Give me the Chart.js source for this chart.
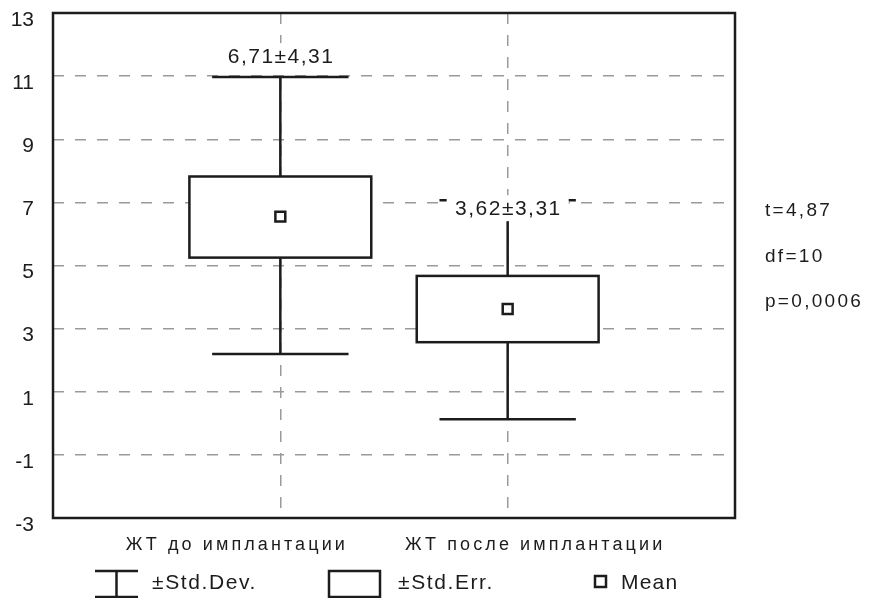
<!DOCTYPE html>
<html>
<head>
<meta charset="utf-8">
<script src="https://cdn.jsdelivr.net/npm/chart.js@4/dist/chart.umd.min.js"></script>
<style>
  html, body { margin: 0; padding: 0; background: #fff; }
  #wrap { width: 869px; height: 598px; }
</style>
</head>
<body>
<div id="wrap"><canvas id="chart"></canvas></div>
<script>
// data
const categories = ['ЖТ до имплантации', 'ЖТ после имплантации'];
const means = [6.55, 3.62];
const seLow = [5.25, 2.57];
const seHigh = [7.82, 4.67];
const sdLow = [2.2, 0.13];
const sdHigh = [10.97, 7.07];
const valueLabels = ['6,71±4,31', '3,62±3,31'];
const yTicks = [-3, -1, 1, 3, 5, 7, 9, 11, 13];
const statLines = ['t=4,87', 'df=10', 'p=0,0006'];
const legendItems = ['±Std.Dev.', '±Std.Err.', 'Mean'];

const FONT = "'Liberation Sans', Arial, sans-serif";
const INK = '#1c1c1c';

function spacedText(ctx, txt, x, y, spacing, align) {
  ctx.letterSpacing = spacing + 'px';
  let w = ctx.measureText(txt).width;
  let sx = x;
  if (align === 'center') sx = x - w / 2 + spacing / 2;
  ctx.textAlign = 'left';
  ctx.fillText(txt, sx, y);
  ctx.letterSpacing = '0px';
}

const boxPlugin = {
  id: 'boxes',
  beforeDatasetsDraw(chart) {
    const { ctx, scales: { x, y } } = chart;
    ctx.save();
    ctx.strokeStyle = INK;
    ctx.lineWidth = 2.5;
    ctx.fillStyle = '#fff';
    categories.forEach((c, i) => {
      const cx = x.getPixelForValue(i + 1);
      const bw = x.getPixelForValue(i + 1.4) - cx;
      const cw = x.getPixelForValue(i + 1.3) - cx;
      // whiskers
      ctx.beginPath();
      ctx.moveTo(cx, y.getPixelForValue(sdHigh[i]));
      ctx.lineTo(cx, y.getPixelForValue(seHigh[i]));
      ctx.moveTo(cx, y.getPixelForValue(seLow[i]));
      ctx.lineTo(cx, y.getPixelForValue(sdLow[i]));
      ctx.moveTo(cx - cw, y.getPixelForValue(sdHigh[i]));
      ctx.lineTo(cx + cw, y.getPixelForValue(sdHigh[i]));
      ctx.moveTo(cx - cw, y.getPixelForValue(sdLow[i]));
      ctx.lineTo(cx + cw, y.getPixelForValue(sdLow[i]));
      ctx.stroke();
      // SE box
      const top = y.getPixelForValue(seHigh[i]);
      const bot = y.getPixelForValue(seLow[i]);
      ctx.fillRect(cx - bw, top, bw * 2, bot - top);
      ctx.strokeRect(cx - bw, top, bw * 2, bot - top);
    });
    ctx.restore();
  },
  afterDatasetsDraw(chart) {
    const { ctx, scales: { x, y } } = chart;
    const shift = [-21, 8];
    ctx.save();
    ctx.font = '21px ' + FONT;
    ctx.textBaseline = 'middle';
    categories.forEach((c, i) => {
      const cx = x.getPixelForValue(i + 1);
      const ly = y.getPixelForValue(sdHigh[i]) + shift[i];
      ctx.fillStyle = '#fff';
      ctx.fillRect(cx - 61, ly - 13, 122, 26);
      ctx.fillStyle = INK;
      spacedText(ctx, valueLabels[i], cx, ly + 1, 1.5, 'center');
    });
    ctx.restore();
  },
  afterDraw(chart) {
    const { ctx, chartArea: a, scales: { x } } = chart;
    ctx.save();
    // frame
    ctx.strokeStyle = INK;
    ctx.lineWidth = 2.5;
    ctx.strokeRect(a.left, a.top, a.right - a.left, a.bottom - a.top);
    ctx.fillStyle = INK;
    ctx.textBaseline = 'middle';
    // category labels
    ctx.font = '18px ' + FONT;
    const catShift = [-45, 26];
    categories.forEach((c, i) => {
      spacedText(ctx, c, x.getPixelForValue(i + 1) + catShift[i], 545, 3.1, 'center');
    });
    // stats on the right
    ctx.font = '19px ' + FONT;
    statLines.forEach((s, i) => {
      spacedText(ctx, s, 765, 211 + i * 45.5, 2.3, 'left');
    });
    // legend
    ctx.lineWidth = 2.5;
    ctx.beginPath();
    ctx.moveTo(95, 571); ctx.lineTo(138, 571);
    ctx.moveTo(116.5, 571); ctx.lineTo(116.5, 597);
    ctx.moveTo(95, 597); ctx.lineTo(138, 597);
    ctx.stroke();
    ctx.strokeRect(329, 571, 51, 26);
    ctx.strokeRect(595, 576, 11, 11);
    ctx.font = '21px ' + FONT;
    spacedText(ctx, legendItems[0], 152, 583, 1.6, 'left');
    spacedText(ctx, legendItems[1], 398, 583, 1.6, 'left');
    spacedText(ctx, legendItems[2], 621, 583, 1.2, 'left');
    ctx.restore();
  }
};

new Chart(document.getElementById('chart'), {
  type: 'scatter',
  data: {
    datasets: [{
      label: 'Mean',
      data: categories.map((c, i) => ({ x: i + 1, y: means[i] })),
      pointStyle: 'rect',
      radius: 7,
      borderWidth: 2.5,
      borderColor: INK,
      backgroundColor: '#fff'
    }]
  },
  options: {
    responsive: true,
    maintainAspectRatio: false,
    animation: false,
    events: [],
    layout: { padding: { left: 0, right: 134, top: 13, bottom: 0 } },
    plugins: { legend: { display: false }, tooltip: { enabled: false } },
    scales: {
      x: {
        type: 'linear',
        min: 0,
        max: 3,
        afterBuildTicks: s => { s.ticks = [0, 1, 2, 3].map(v => ({ value: v })); },
        ticks: { display: false },
        grid: {
          drawTicks: false,
          lineWidth: 1.5,
          color: c => (c.tick && (c.tick.value === 1 || c.tick.value === 2)) ? '#9a9a9a' : 'rgba(0,0,0,0)'
        },
        border: { display: false, dash: [11, 11] },
        afterFit: s => { s.height = 80; s.paddingLeft = 0; s.paddingRight = 0; }
      },
      y: {
        min: -3,
        max: 13,
        afterBuildTicks: s => { s.ticks = yTicks.map(v => ({ value: v })); },
        ticks: {
          color: INK,
          font: { size: 21, family: FONT },
          padding: 19,
          labelOffset: 7
        },
        grid: {
          drawTicks: false,
          lineWidth: 1.5,
          color: '#9a9a9a'
        },
        border: { display: false, dash: [11, 11] },
        afterFit: s => { s.width = 53; s.paddingTop = 0; s.paddingBottom = 0; }
      }
    }
  },
  plugins: [boxPlugin]
});
</script>
</body>
</html>
